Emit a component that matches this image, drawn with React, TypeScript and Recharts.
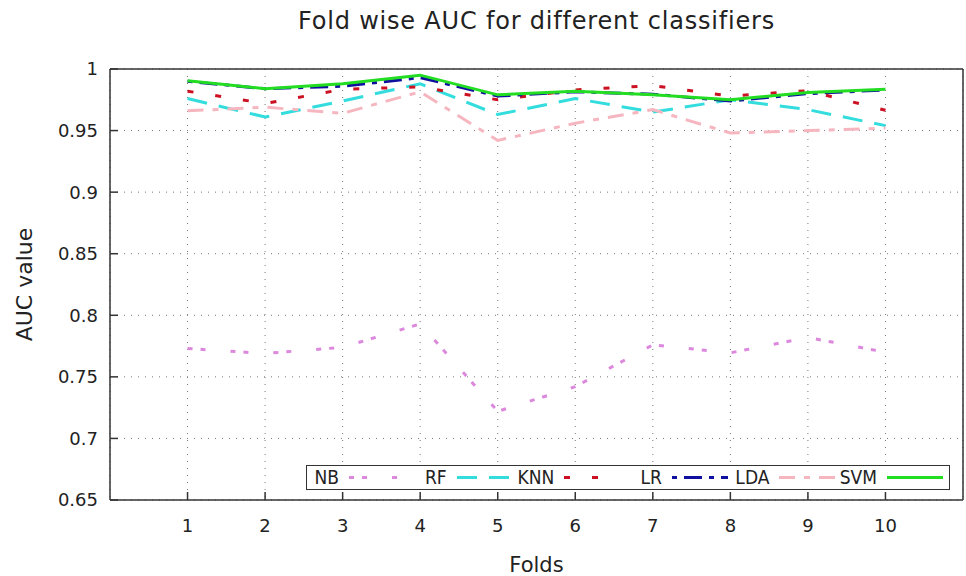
import React from 'react';
import { LineChart, Line, XAxis, YAxis, CartesianGrid, Label } from 'recharts';

// fold index on the x axis
const folds = [1, 2, 3, 4, 5, 6, 7, 8, 9, 10];

// AUC per fold, one array per classifier
const nbAuc = [0.773, 0.769, 0.774, 0.793, 0.722, 0.742, 0.776, 0.7695, 0.782, 0.77];
const rfAuc = [0.976, 0.961, 0.974, 0.988, 0.963, 0.976, 0.965, 0.975, 0.967, 0.954];
const knnAuc = [0.982, 0.972, 0.9835, 0.9855, 0.975, 0.983, 0.9866, 0.978, 0.9824, 0.9665];
const lrAuc = [0.99, 0.984, 0.986, 0.993, 0.978, 0.9815, 0.9795, 0.974, 0.98, 0.983];
const ldaAuc = [0.966, 0.969, 0.964, 0.9815, 0.942, 0.956, 0.967, 0.948, 0.95, 0.952];
const svmAuc = [0.9905, 0.984, 0.988, 0.995, 0.979, 0.982, 0.979, 0.975, 0.981, 0.9835];

const yTicks = [0.65, 0.7, 0.75, 0.8, 0.85, 0.9, 0.95, 1];
const xTicks = folds;

const series = [
  { key: 'NB', values: nbAuc, color: '#dc88dc', dash: '5 8 5 25' },
  { key: 'RF', values: rfAuc, color: '#33dddd', dash: '20 12' },
  { key: 'KNN', values: knnAuc, color: '#cc1122', dash: '6 22' },
  { key: 'LR', values: lrAuc, color: '#1010a0', dash: '5 7 18 7' },
  { key: 'LDA', values: ldaAuc, color: '#f6b6c0', dash: '16 9 6 9' },
  { key: 'SVM', values: svmAuc, color: '#22dd22', dash: undefined as string | undefined },
];

const data = folds.map((fold, i) => {
  const row: Record<string, number> = { fold };
  series.forEach((s) => {
    row[s.key] = s.values[i];
  });
  return row;
});

const font = '"DejaVu Sans", sans-serif';
const axisColor = '#333';

function KeyBox() {
  return (
    <div
      style={{
        position: 'absolute',
        left: 306,
        top: 465,
        width: 642,
        height: 23,
        border: `1.5px solid ${axisColor}`,
        background: '#fff',
        fontFamily: '"DejaVu Sans Condensed", "DejaVu Sans", sans-serif',
        fontSize: 19,
        color: '#222',
      }}
    >
      {series.map((s, i) => {
        const textEnd = 32 + i * 107.6;
        return (
          <React.Fragment key={s.key}>
            <div
              style={{
                position: 'absolute',
                right: 642 - textEnd,
                top: 0,
                lineHeight: '23px',
                whiteSpace: 'nowrap',
              }}
            >
              {s.key}
            </div>
            <svg style={{ position: 'absolute', left: textEnd + 10, top: 0 }} width={56} height={23}>
              <line x1={0} y1={11.5} x2={56} y2={11.5} stroke={s.color} strokeWidth={3} strokeDasharray={s.dash} />
            </svg>
          </React.Fragment>
        );
      })}
    </div>
  );
}

export default function App() {
  return (
    <div style={{ position: 'absolute', left: 0, top: 0, width: 966, height: 576, background: '#fff', fontFamily: font }}>
      <div
        style={{
          position: 'absolute',
          left: 110,
          width: 853,
          top: 9,
          textAlign: 'center',
          fontSize: 24,
          letterSpacing: 0.8,
          lineHeight: '24px',
          color: '#222',
        }}
      >
        Fold wise AUC for different classifiers
      </div>
      <LineChart width={966} height={576} data={data} margin={{ top: 68, right: 2, bottom: 0, left: 0 }}>
        <CartesianGrid stroke="#777" strokeDasharray="1 6" />
        <XAxis
          dataKey="fold"
          type="number"
          domain={[0, 11]}
          ticks={xTicks}
          height={76}
          tickSize={-8}
          tickMargin={27}
          tick={{ fontSize: 18, fill: '#222', fontFamily: font }}
          axisLine={{ stroke: axisColor, strokeWidth: 1.5 }}
          tickLine={{ stroke: axisColor, strokeWidth: 1.5 }}
        >
          <Label value="Folds" position="insideBottom" offset={4} style={{ fontSize: 21, fill: '#222', fontFamily: font }} />
        </XAxis>
        <XAxis
          xAxisId="top"
          orientation="top"
          type="number"
          domain={[0, 11]}
          ticks={xTicks}
          height={1}
          tick={false}
          tickSize={-8}
          axisLine={{ stroke: axisColor, strokeWidth: 1.5 }}
          tickLine={{ stroke: axisColor, strokeWidth: 1.5 }}
        />
        <YAxis
          type="number"
          domain={[0.65, 1]}
          ticks={yTicks}
          width={110}
          tickSize={-8}
          tickMargin={20}
          interval={0}
          tick={{ fontSize: 18, fill: '#222', fontFamily: font }}
          axisLine={{ stroke: axisColor, strokeWidth: 1.5 }}
          tickLine={{ stroke: axisColor, strokeWidth: 1.5 }}
        >
          <Label
            value="AUC value"
            angle={-90}
            position="insideLeft"
            offset={24}
            style={{ fontSize: 22, fill: '#222', fontFamily: font, textAnchor: 'middle' }}
          />
        </YAxis>
        <YAxis
          yAxisId="right"
          orientation="right"
          type="number"
          domain={[0.65, 1]}
          ticks={yTicks}
          width={1}
          tick={false}
          tickSize={-8}
          axisLine={{ stroke: axisColor, strokeWidth: 1.5 }}
          tickLine={{ stroke: axisColor, strokeWidth: 1.5 }}
        />
        {series.map((s) => (
          <Line
            key={s.key}
            dataKey={s.key}
            type="linear"
            stroke={s.color}
            strokeWidth={3}
            strokeDasharray={s.dash}
            dot={false}
            activeDot={false}
            isAnimationActive={false}
          />
        ))}
      </LineChart>
      <KeyBox />
    </div>
  );
}
